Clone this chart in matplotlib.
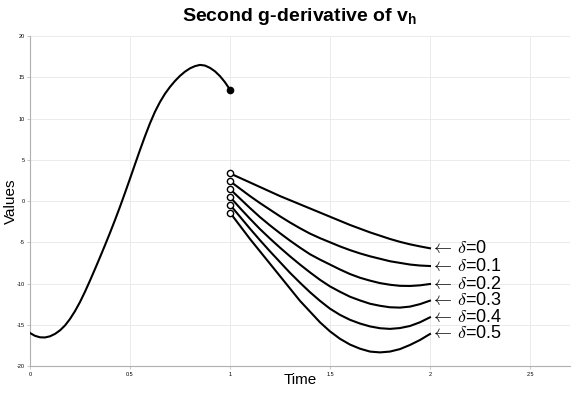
import matplotlib
matplotlib.use("Agg")
import matplotlib.pyplot as plt
import numpy as np

# Kurve fuer t in [0, 1]
t_left = [0.0, 0.025, 0.05, 0.075, 0.1, 0.125, 0.15, 0.175, 0.2, 0.225, 0.25,
          0.275, 0.3, 0.325, 0.35, 0.375, 0.4, 0.425, 0.45, 0.475, 0.5,
          0.525, 0.55, 0.575, 0.6, 0.625, 0.65, 0.675, 0.7, 0.725, 0.75,
          0.775, 0.8, 0.825, 0.85, 0.875, 0.9, 0.925, 0.95, 0.975, 1.0]
v_left = [-16.0, -16.34, -16.52, -16.54, -16.4, -16.11, -15.68, -15.09, -14.3, -13.35, -12.25,
          -11.0, -9.65, -8.25, -6.82, -5.36, -3.86, -2.31, -0.7, 0.98, 2.7,
          4.45, 6.18, 7.85, 9.42, 10.82, 12.0, 13.0, 13.83, 14.55, 15.17,
          15.68, 16.08, 16.35, 16.5, 16.42, 16.14, 15.72, 15.14, 14.4, 13.5]

# Kurven fuer t in [1, 2], eine pro delta
t_right = [1.0, 1.05, 1.1, 1.15, 1.2, 1.25, 1.3, 1.35, 1.4, 1.45, 1.5,
           1.55, 1.6, 1.65, 1.7, 1.75, 1.8, 1.85, 1.9, 1.95, 2.0]
deltas = ["0", "0.1", "0.2", "0.3", "0.4", "0.5"]
v_d00 = [3.35, 2.8, 2.25, 1.7, 1.15, 0.6, 0.1, -0.4, -0.9, -1.4, -1.9,
         -2.4, -2.9, -3.35, -3.8, -4.2, -4.6, -4.95, -5.25, -5.5, -5.73]
v_d01 = [2.4, 1.5, 0.6, -0.25, -1.05, -1.85, -2.6, -3.3, -3.95, -4.5, -5.0,
         -5.5, -5.95, -6.35, -6.7, -7.0, -7.3, -7.5, -7.7, -7.82, -7.88]
v_d02 = [1.45, 0.3, -0.85, -1.95, -2.95, -3.9, -4.8, -5.65, -6.45, -7.1, -7.7,
         -8.3, -8.85, -9.3, -9.65, -9.95, -10.15, -10.28, -10.3, -10.22, -10.06]
v_d03 = [0.5, -0.85, -2.15, -3.4, -4.55, -5.65, -6.7, -7.7, -8.65, -9.55, -10.35,
         -11.0, -11.6, -12.05, -12.45, -12.7, -12.88, -12.92, -12.8, -12.5, -12.08]
v_d04 = [-0.45, -1.9, -3.35, -4.75, -6.1, -7.4, -8.7, -9.9, -11.05, -12.1, -13.05,
         -13.8, -14.4, -14.85, -15.2, -15.42, -15.5, -15.4, -15.15, -14.7, -14.1]
v_d05 = [-1.4, -3.0, -4.6, -6.1, -7.6, -9.1, -10.6, -12.1, -13.4, -14.7, -15.8,
         -16.7, -17.4, -17.9, -18.25, -18.35, -18.25, -17.95, -17.45, -16.85, -16.12]
v_right = [v_d00, v_d01, v_d02, v_d03, v_d04, v_d05]

x_ticks = [0, 0.5, 1, 1.5, 2, 2.5]
x_tick_labels = ["0", "0.5", "1", "1.5", "2", "2.5"]
y_ticks = [-20, -15, -10, -5, 0, 5, 10, 15, 20]
y_tick_labels = ["-20", "-15", "-10", "-5", "0", "5", "10", "15", "20"]

plt.rcParams["font.family"] = ["Liberation Sans", "DejaVu Sans"]
plt.rcParams["axes.unicode_minus"] = False
plt.rcParams["mathtext.fontset"] = "custom"
plt.rcParams["mathtext.rm"] = "Liberation Sans"
plt.rcParams["mathtext.bf"] = "Liberation Sans:bold"
plt.rcParams["mathtext.it"] = "Liberation Sans:italic"

fig = plt.figure(figsize=(5.81, 3.95), dpi=100)
ax = fig.add_axes([0.0516, 0.0734, 0.9294, 0.8354])

ax.plot(t_left, v_left, color="black", lw=1.5, zorder=3)
ax.plot([t_left[-1]], [v_left[-1]], "o", color="black", ms=4.5, zorder=4)

for d, vals in zip(deltas, v_right):
    ax.plot(t_right, vals, color="black", lw=1.5, zorder=3)
    ax.plot([t_right[0]], [vals[0]], "o", mfc="white", mec="black", mew=1.0, ms=4.5, zorder=4)
    ax.text(t_right[-1], vals[-1], r"$\leftarrow\,\delta$=" + d, ha="left", va="center",
            fontsize=13, math_fontfamily="cm")

ax.set_xlim(0, 2.7)
ax.set_ylim(-20, 20)
ax.set_xticks(x_ticks)
ax.set_xticklabels(x_tick_labels)
ax.set_yticks(y_ticks)
ax.set_yticklabels(y_tick_labels)
ax.tick_params(labelsize=4, length=2, width=0.5, color="#b0b0b0", pad=2)

ax.grid(True, color="#ebebeb", lw=0.7, zorder=0)
ax.set_axisbelow(True)
for side in ["top", "right"]:
    ax.spines[side].set_visible(False)
for side in ["left", "bottom"]:
    ax.spines[side].set_color("#b0b0b0")
    ax.spines[side].set_linewidth(0.8)

ax.set_xlabel("Time", fontsize=11)
ax.set_ylabel("Values", fontsize=11)
ax.xaxis.set_label_coords(0.5, -0.042)
ax.yaxis.set_label_coords(-0.036, 0.5)
ax.xaxis.label.set_va("center")
ax.yaxis.label.set_va("center")
ax.set_title(r"Second g-derivative of $\mathbf{v_h}$", fontsize=14, fontweight="bold", pad=11)

fig.savefig("out.png", dpi=100)
